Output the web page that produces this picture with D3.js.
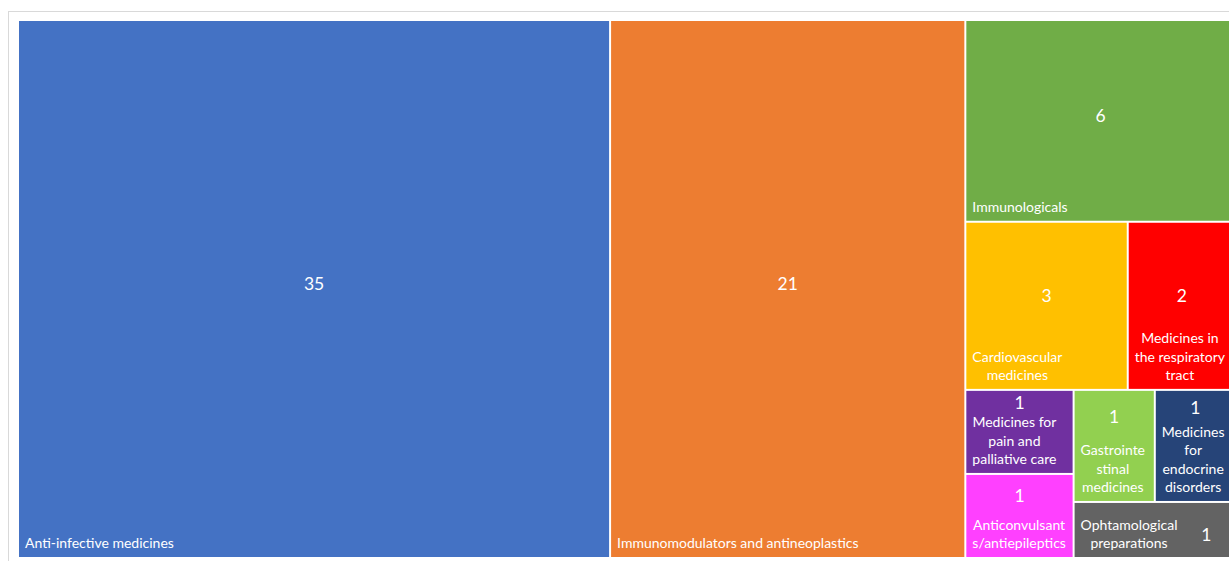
<!DOCTYPE html>
<html><head><meta charset="utf-8">
<script src="https://cdn.jsdelivr.net/npm/d3@7"></script>
<style>
html,body{margin:0;padding:0;background:#fff;}
svg{display:block;}
</style></head>
<body>
<svg id="chart" width="1229" height="561"></svg>
<script>
// ---- data ----
const categories = [
  "Anti-infective medicines",
  "Immunomodulators and antineoplastics",
  "Immunologicals",
  "Cardiovascular medicines",
  "Medicines in the respiratory tract",
  "Medicines for pain and palliative care",
  "Anticonvulsants/antiepileptics",
  "Gastrointestinal medicines",
  "Medicines for endocrine disorders",
  "Ophtamological preparations"
];
const values = [35, 21, 6, 3, 2, 1, 1, 1, 1, 1];
const colors = ["#4472C4", "#ED7D31", "#70AD47", "#FFC000", "#FF0000",
                "#7030A0", "#FF40FF", "#92D050", "#264478", "#636363"];

// ---- layout ----
const svg = d3.select("#chart");
const plot = {x: 19, y: 21, w: 1216, h: 536};
const labelFont = "Lato, 'Open Sans', sans-serif";
const labelSize = 14, valueSize = 17.5, lineH = 18.3;

// outer chart frame
svg.append("rect").attr("x", 8.5).attr("y", 11.5).attr("width", 1260).attr("height", 600)
  .attr("fill", "#fff").attr("stroke", "#d9d9d9").attr("stroke-width", 1);

const rows = categories.map((c, i) => ({name: c, value: values[i], color: colors[i], idx: i}));
const root = d3.hierarchy({children: rows}).sum(d => d.value || 0)
  .sort((a, b) => b.value - a.value || a.data.idx - b.data.idx);

d3.treemap()
  .size([plot.w, plot.h])
  .paddingInner(2)
  .tile(d3.treemapSquarify.ratio(1))(root);

const g = svg.append("g").attr("transform", `translate(${plot.x},${plot.y})`);

// text measurement
const meas = svg.append("text").attr("font-family", labelFont).attr("font-size", labelSize)
  .attr("visibility", "hidden");
function tw(s) { meas.text(s); return meas.node().getComputedTextLength(); }

function wrap(text, maxW) {
  const words = text.split(" ");
  const lines = [];
  let cur = "";
  for (let w of words) {
    const cand = cur ? cur + " " + w : w;
    if (tw(cand) <= maxW) { cur = cand; continue; }
    if (cur) { lines.push(cur); cur = ""; }
    while (tw(w) > maxW) {
      let k = w.length;
      while (k > 1 && tw(w.slice(0, k)) > maxW) k--;
      lines.push(w.slice(0, k));
      w = w.slice(k);
    }
    cur = w;
  }
  if (cur) lines.push(cur);
  return lines;
}

const leaves = g.selectAll("g.leaf").data(root.leaves()).join("g").attr("class", "leaf");

leaves.append("rect")
  .attr("x", d => d.x0).attr("y", d => d.y0)
  .attr("width", d => d.x1 - d.x0).attr("height", d => d.y1 - d.y0)
  .attr("fill", d => d.data.color);

leaves.each(function(d) {
  const sel = d3.select(this);
  const w = d.x1 - d.x0, h = d.y1 - d.y0;
  const pad = 6;
  const lines = wrap(d.data.name, w - 2 * pad);
  const widths = lines.map(tw);
  const blockW = d3.max(widths);
  const blockCx = d.x0 + pad + blockW / 2;
  const needH = lines.length * lineH + valueSize + 4;
  const lastBase = d.y1 - 9;
  const firstBase = lastBase - (lines.length - 1) * lineH;
  let vx, vy;
  if (needH > h) {
    vx = (d.x0 + pad + blockW + d.x1) / 2;
    vy = (firstBase + lastBase) / 2 - 4;
  } else {
    vx = (d.x0 + d.x1) / 2;
    const topLabel = firstBase - 13;
    const space = topLabel - d.y0;
    const centerAbove = (d.y0 + topLabel) / 2;
    const boxC = (d.y0 + d.y1) / 2;
    if (lines.length === 1) vy = (centerAbove + boxC) / 2;
    else vy = space > 80 ? boxC - 10 : centerAbove;
  }
  const t = sel.append("text")
    .attr("font-family", labelFont).attr("font-size", labelSize)
    .attr("fill", "#fff").attr("text-anchor", "middle");
  lines.forEach((ln, i) => {
    t.append("tspan").attr("x", blockCx).attr("y", firstBase + i * lineH).text(ln);
  });
  sel.append("text")
    .attr("x", vx).attr("y", vy)
    .attr("dy", "0.35em")
    .attr("font-family", labelFont).attr("font-size", valueSize)
    .attr("fill", "#fff").attr("text-anchor", "middle")
    .text(d.data.value);
});
meas.remove();
</script>
</body></html>
